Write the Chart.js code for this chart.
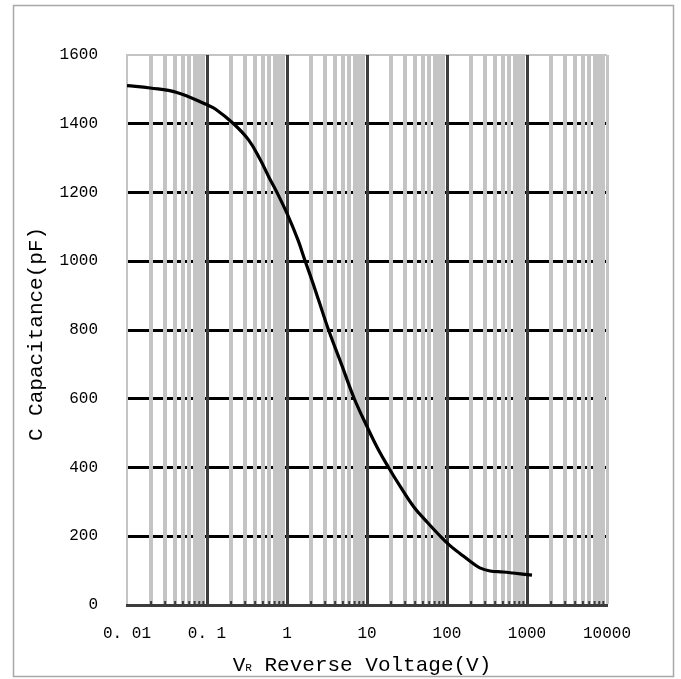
<!DOCTYPE html>
<html>
<head>
<meta charset="utf-8">
<script src="https://cdn.jsdelivr.net/npm/chart.js@4/dist/chart.umd.min.js"></script>
<style>
  html, body { margin: 0; padding: 0; background: #fff; }
  #wrap { width: 681px; height: 679px; }
</style>
</head>
<body>
<div id="wrap"><canvas id="myChart" width="681" height="679"></canvas></div>
<script>
// values
const voltage = [0.01, 0.0195, 0.042, 0.1, 0.127, 0.215, 0.331, 0.464, 0.59, 0.75, 1.0, 1.37, 1.69, 2.05,
  2.5, 3.31, 4.8, 6.94, 10.2, 14, 18.6, 26, 38.3, 57, 82.5, 110, 145, 200, 257, 345, 500, 668, 1155];
const capacitance = [1511, 1504, 1491, 1455, 1443, 1400, 1353, 1295, 1246, 1200, 1139, 1062, 1000, 945,
  885, 800, 700, 600, 515, 450, 400, 345, 286, 240, 200, 172, 150, 125, 108, 99, 96, 93, 87];

const decades = [0.01, 0.1, 1, 10, 100, 1000, 10000];
const xTickLabels = ['0. 01', '0. 1', '1', '10', '100', '1000', '10000'];
const yTicks = [0, 200, 400, 600, 800, 1000, 1200, 1400, 1600];

const yTitle = 'C Capacitance(pF)';
const xTitleMain = 'V';
const xTitleSub = 'R';
const xTitleRest = ' Reverse Voltage(V)';

const FONT = '"Liberation Mono", "DejaVu Sans Mono", monospace';

// grid positions: decades plus 2..9 inside each decade
const xGrid = [];
decades.forEach((d, i) => {
  xGrid.push(d);
  if (i < decades.length - 1) {
    for (let m = 2; m <= 9; m++) xGrid.push(+(d * m).toPrecision(6));
  }
});

const isDecade = (v) => decades.indexOf(v) !== -1;

const frame = {
  id: 'frame',
  beforeDraw(chart) {
    const ctx = chart.ctx;
    ctx.save();
    ctx.fillStyle = '#fff';
    ctx.fillRect(0, 0, chart.width, chart.height);
    ctx.restore();
  },
  afterDatasetsDraw(chart) {
    const ctx = chart.ctx;
    const x = chart.scales.x;
    const area = chart.chartArea;
    ctx.save();
    // small tick marks standing on the bottom axis
    ctx.strokeStyle = '#3c3c3c';
    ctx.lineWidth = 2;
    xGrid.forEach((v) => {
      if (isDecade(v)) return;
      const px = x.getPixelForValue(v);
      ctx.beginPath();
      ctx.moveTo(px, area.bottom - 4);
      ctx.lineTo(px, area.bottom);
      ctx.stroke();
    });
    ctx.restore();
  },
  afterDraw(chart) {
    const ctx = chart.ctx;
    const area = chart.chartArea;
    ctx.save();
    ctx.strokeStyle = '#a8a8a8';
    ctx.lineWidth = 1.5;
    ctx.strokeRect(13.5, 5.5, 660, 671);

    ctx.fillStyle = '#000';
    ctx.textBaseline = 'alphabetic';

    // y title
    ctx.save();
    ctx.translate(42, (area.top + area.bottom) / 2 + 4);
    ctx.rotate(-Math.PI / 2);
    ctx.font = '21px ' + FONT;
    ctx.textAlign = 'center';
    ctx.fillText(yTitle, 0, 0);
    ctx.restore();

    // x title with subscript R
    ctx.font = '21px ' + FONT;
    const wMain = ctx.measureText(xTitleMain).width;
    const wRest = ctx.measureText(xTitleRest).width;
    ctx.font = '11px ' + FONT;
    const wSub = ctx.measureText(xTitleSub).width;
    const total = wMain + wSub + wRest;
    let tx = 362 - total / 2;
    const ty = 671;
    ctx.textAlign = 'left';
    ctx.font = '21px ' + FONT;
    ctx.fillText(xTitleMain, tx, ty);
    tx += wMain;
    ctx.font = '11px ' + FONT;
    ctx.fillText(xTitleSub, tx, ty);
    tx += wSub;
    ctx.font = '21px ' + FONT;
    ctx.fillText(xTitleRest, tx, ty);
    ctx.restore();
  }
};

const ctx = document.getElementById('myChart').getContext('2d');
const chart = new Chart(ctx, {
  type: 'scatter',
  data: {
    datasets: [{
      label: 'C',
      data: voltage.map((v, i) => ({ x: v, y: capacitance[i] })),
      showLine: true,
      borderColor: '#000',
      borderWidth: 3.2,
      pointRadius: 0,
      tension: 0.4,
      fill: false,
    }],
  },
  options: {
    responsive: false,
    animation: false,
    devicePixelRatio: 1,
    layout: { padding: { left: 0, top: 55, right: 74, bottom: 0 } },
    plugins: {
      legend: { display: false },
      tooltip: { enabled: false },
    },
    scales: {
      x: {
        type: 'logarithmic',
        min: 0.01,
        max: 10000,
        afterBuildTicks: (scale) => {
          scale.ticks = xGrid.map(v => ({ value: v }));
        },
        afterFit: (scale) => { scale.height = 74; },
        grid: {
          z: -1,
          drawTicks: false,
          color: (c) => {
            const v = c.tick && c.tick.value;
            if (v === 0.01 || v === 10000) return '#c4c4c4';
            return isDecade(v) ? '#3c3c3c' : '#c4c4c4';
          },
          lineWidth: (c) => {
            const v = c.tick && c.tick.value;
            if (v === 0.01) return 2;
            return isDecade(v) ? 3 : 4;
          },
        },
        border: { display: true, color: '#3c3c3c', width: 3, z: 0 },
        ticks: {
          autoSkip: false,
          maxRotation: 0,
          minRotation: 0,
          padding: 19,
          color: '#000',
          font: { family: FONT, size: 16 },
          callback: (value) => {
            const i = decades.indexOf(value);
            return i === -1 ? '' : xTickLabels[i];
          },
        },
      },
      y: {
        min: 0,
        max: 1600,
        afterBuildTicks: (scale) => {
          scale.ticks = yTicks.map(v => ({ value: v }));
        },
        afterFit: (scale) => { scale.width = 127; },
        grid: {
          z: -2,
          drawTicks: false,
          color: (c) => {
            const v = c.tick && c.tick.value;
            if (v === 1600) return '#c4c4c4';
            if (v === 0) return '#3c3c3c';
            return '#000';
          },
          lineWidth: (c) => (c.tick && c.tick.value === 1600 ? 2 : 3),
        },
        border: { display: true, color: '#c4c4c4', width: 2, z: -1 },
        ticks: {
          padding: 29,
          color: '#000',
          font: { family: FONT, size: 16 },
          callback: (value) => String(value),
        },
      },
    },
  },
  plugins: [frame],
});
</script>
</body>
</html>
